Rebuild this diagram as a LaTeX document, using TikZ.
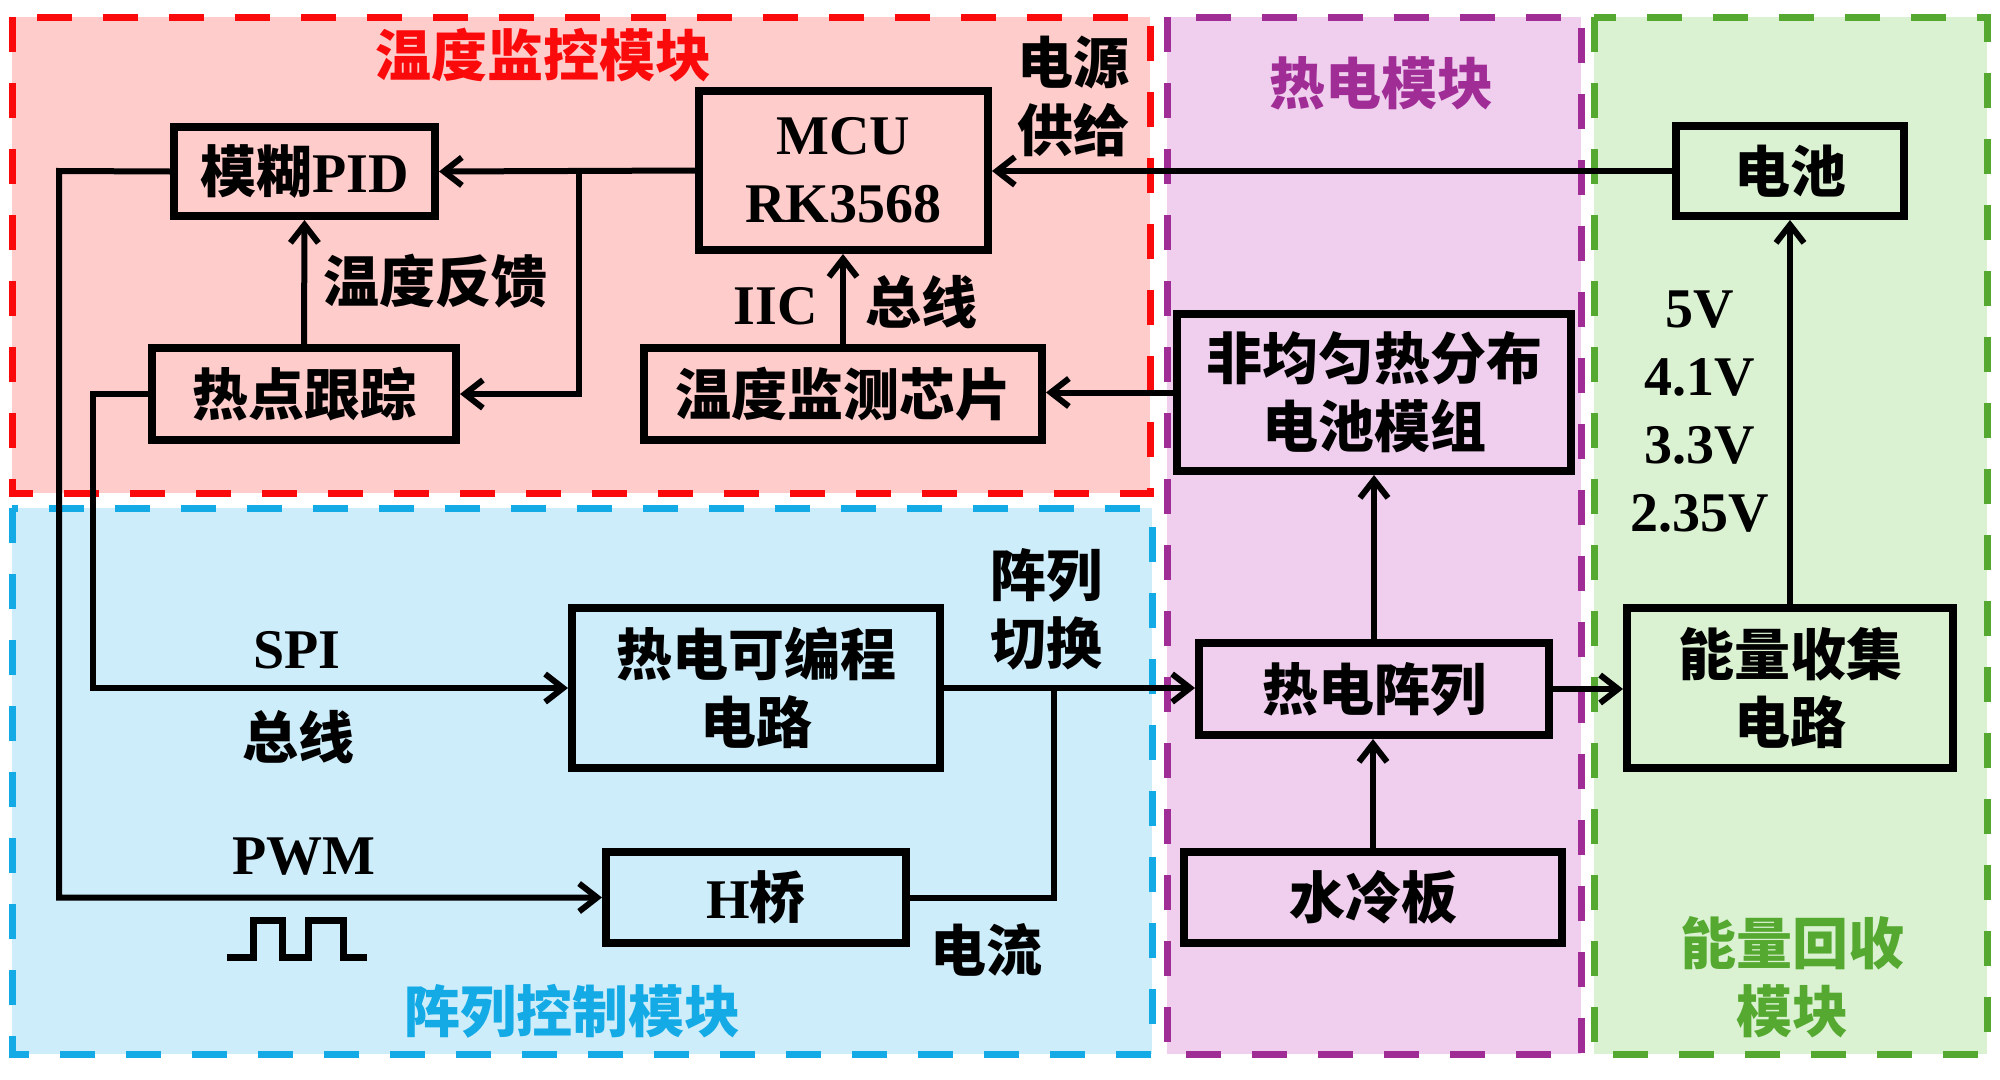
\documentclass[tikz,border=0pt]{standalone}
\usepackage{fontspec}
\setmainfont{Liberation Serif}
\newfontfamily\cjk{Noto Sans CJK SC}
\newfontfamily\lat{Liberation Serif}
\usetikzlibrary{arrows.meta}
\definecolor{redfill}{RGB}{255,204,204}
\definecolor{redline}{RGB}{250,10,10}
\definecolor{bluefill}{RGB}{205,237,250}
\definecolor{blueline}{RGB}{20,170,230}
\definecolor{purpfill}{RGB}{240,207,238}
\definecolor{purpline}{RGB}{160,45,150}
\definecolor{grnfill}{RGB}{218,242,210}
\definecolor{grnline}{RGB}{85,168,48}
\newcommand\bigfont{\fontsize{56}{68}\selectfont\bfseries}
\tikzset{
  region/.style={line width=7pt, dash pattern=on 35pt off 31pt},
  box/.style={draw=black, line width=8pt, inner sep=0pt, align=center, font=\bigfont\cjk},
  lbl/.style={inner sep=0pt, align=center, font=\bigfont\cjk},
  conn/.style={line width=6pt},
  arr/.style={conn, -{Straight Barb[length=18pt,width=28pt]}}
}
\begin{document}
\begin{tikzpicture}[x=1pt,y=-1pt]
\useasboundingbox (0,0) rectangle (2000,1079);
\fill[white] (0,0) rectangle (2000,1079);
% regions
\fill[redfill] (12,17) rectangle (1150,493);
\draw[region, redline] (12,17) rectangle (1150,493);
\fill[bluefill] (12,508) rectangle (1152,1054);
\draw[region, blueline] (12,508) rectangle (1152,1054);
\fill[purpfill] (1167,17) rectangle (1581,1054);
\draw[region, purpline] (1167,17) rectangle (1581,1054);
\fill[grnfill] (1594,17) rectangle (1987,1054);
\draw[region, grnline] (1594,17) rectangle (1987,1054);
% titles
\node[lbl, text=redline] (t1) at (543,55) {温度监控模块};
\node[lbl, text=purpline] (t2) at (1381,83) {热电模块};
\node[lbl, text=blueline] (t3) at (572,1011) {阵列控制模块};
\node[lbl, text=grnline] (t4) at (1792,977) {能量回收\\模块};
% boxes
\node[box, minimum width=261pt, minimum height=89pt] (pid) at (304.5,171.5) {模糊{\lat PID}};
\node[box, minimum width=289pt, minimum height=159pt] (mcu) at (843.5,170.5) {\lat MCU\\\lat RK3568};
\node[box, minimum width=304pt, minimum height=92pt] (hot) at (304,394) {热点跟踪};
\node[box, minimum width=398pt, minimum height=92pt] (chip) at (843,394) {温度监测芯片};
\node[box, minimum width=394pt, minimum height=157pt] (mod) at (1374,392.5) {非均匀热分布\\电池模组};
\node[box, minimum width=228pt, minimum height=90pt] (bat) at (1790,171) {电池};
\node[box, minimum width=368pt, minimum height=160pt] (prog) at (756,688) {热电可编程\\电路};
\node[box, minimum width=300pt, minimum height=91pt] (hb) at (756,897.5) {{\lat H}桥};
\node[box, minimum width=350pt, minimum height=92pt] (tearr) at (1374,689) {热电阵列};
\node[box, minimum width=378pt, minimum height=91pt] (cold) at (1373,897.5) {水冷板};
\node[box, minimum width=326pt, minimum height=160pt] (ener) at (1790,688) {能量收集\\电路};
% labels
\node[lbl] (l1) at (435,281) {温度反馈};
\node[lbl, font=\bigfont\lat] (l2) at (776,306) {IIC};
\node[lbl] (l3) at (921,302) {总线};
\node[lbl] (l4) at (1073,96) {电源\\供给};
\node[lbl, font=\bigfont\lat] (l5) at (1700,412) {5V\\4.1V\\3.3V\\2.35V};
\node[lbl] (l6) at (1046,609) {阵列\\切换};
\node[lbl] (l7) at (986,950) {电流};
\node[lbl, font=\bigfont\lat] (l8) at (297,650) {SPI};
\node[lbl] (l9) at (298,737) {总线};
\node[lbl, font=\bigfont\lat] (l10) at (304,857) {PWM};
% square wave
\draw[line width=7pt] (227,957) -- (253,957) -- (253,920) -- (282,920) -- (282,957) -- (308,957) -- (308,920) -- (343,920) -- (343,957) -- (367,957);
% connectors
\coordinate (j1) at (579,171);
\coordinate (j2) at (1054,688);
\coordinate (c1) at (59,171);
\coordinate (c2) at (93,394);
\draw[arr] (mcu.west) -- (pid.east);
\draw[arr] (j1) |- (hot.east);
\draw[arr] (hot.north) -- (pid.south);
\draw[arr] (chip.north) -- (chip.north |- mcu.south);
\draw[arr] (bat.west) -- (bat.west -| mcu.east);
\draw[arr] (mod.west) -- (mod.west -| chip.east);
\draw[arr] (tearr.north) -- (mod.south);
\draw[arr] (cold.north) -- (cold.north |- tearr.south);
\draw[arr] (tearr.east) -- (tearr.east -| ener.west);
\draw[arr] (ener.north) -- (bat.south);
\draw[arr] (prog.east) -- (prog.east -| tearr.west);
\draw[conn] (hb.east) -| (j2);
\draw[arr] (pid.west) -- (c1) |- (hb.west);
\draw[arr] (hot.west) -- (c2) |- (prog.west);
\end{tikzpicture}
\end{document}
